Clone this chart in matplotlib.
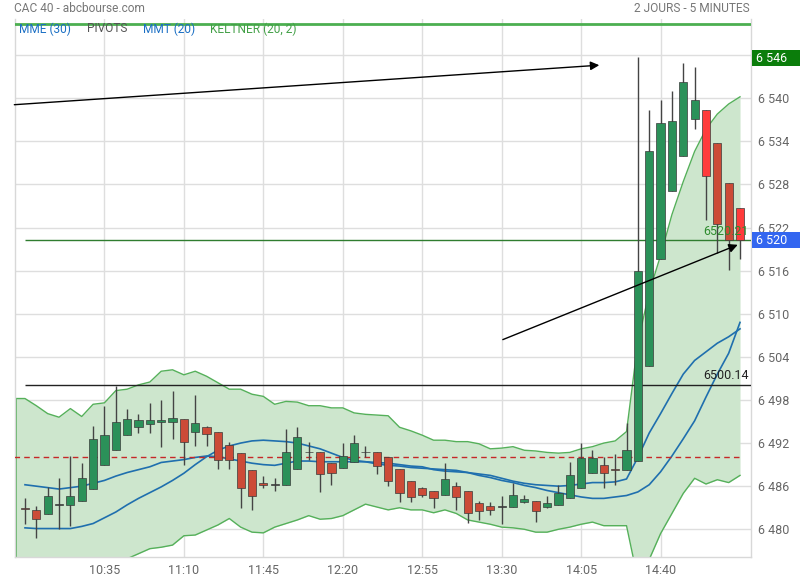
import matplotlib
matplotlib.use("Agg")
import matplotlib.pyplot as plt
import numpy as np

plt.rcParams['font.family'] = ['Roboto', 'DejaVu Sans']

# ---------------- data ----------------
opens = [6482.9, 6482.7, 6482.1, 6483.4, 6483.4, 6484.0, 6485.6, 6489.0, 6491.1, 6493.1,
         6494.2, 6494.7, 6494.9, 6495.0, 6495.3, 6493.6, 6494.2, 6493.6, 6491.7, 6490.6,
         6488.2, 6486.4, 6486.2, 6486.2, 6488.4, 6490.7, 6490.7, 6489.2, 6488.6, 6489.3,
         6490.7, 6490.7, 6490.0, 6488.4, 6486.7, 6485.7, 6485.3, 6484.8, 6486.0, 6485.3,
         6483.7, 6483.2, 6483.1, 6483.1, 6483.8, 6484.0, 6483.1, 6483.4, 6484.3, 6485.8,
         6487.9, 6488.9, 6488.4, 6488.3, 6489.5, 6502.7, 6517.6, 6527.1, 6531.9, 6537.1,
         6538.4, 6533.8, 6528.2, 6524.7]
highs = [6484.3, 6483.3, 6485.9, 6487.2, 6490.2, 6489.2, 6494.4, 6497.2, 6500.0, 6496.7,
         6496.0, 6497.6, 6498.0, 6499.3, 6495.3, 6498.7, 6494.4, 6493.6, 6492.2, 6490.6,
         6488.2, 6487.4, 6487.2, 6494.0, 6494.2, 6492.2, 6490.7, 6489.2, 6492.0, 6493.1,
         6491.6, 6490.7, 6490.0, 6488.4, 6486.7, 6485.9, 6485.3, 6489.2, 6486.6, 6485.3,
         6483.9, 6483.8, 6484.6, 6486.4, 6484.8, 6484.0, 6484.6, 6486.2, 6489.3, 6492.0,
         6491.0, 6490.0, 6490.5, 6494.8, 6545.7, 6538.4, 6539.8, 6541.0, 6544.9, 6544.3,
         6538.4, 6533.8, 6528.2, 6524.7]
lows = [6480.8, 6478.8, 6482.1, 6480.0, 6480.5, 6484.0, 6485.6, 6489.0, 6491.1, 6493.1,
        6493.4, 6493.4, 6491.4, 6492.5, 6489.0, 6491.6, 6491.6, 6488.4, 6488.4, 6482.9,
        6482.7, 6485.7, 6485.3, 6486.2, 6488.4, 6489.6, 6485.2, 6486.1, 6488.6, 6489.3,
        6490.1, 6487.7, 6486.0, 6483.8, 6483.8, 6484.5, 6483.0, 6484.8, 6482.7, 6480.9,
        6481.3, 6482.0, 6480.7, 6483.1, 6483.7, 6481.0, 6482.9, 6483.4, 6484.3, 6485.8,
        6487.9, 6485.8, 6486.1, 6488.3, 6489.5, 6502.7, 6517.6, 6527.1, 6531.9, 6535.7,
        6523.1, 6518.4, 6516.1, 6517.6]
closes = [6482.8, 6481.4, 6484.6, 6483.4, 6484.7, 6487.2, 6492.5, 6493.1, 6495.0, 6495.4,
          6495.2, 6495.2, 6495.2, 6495.5, 6492.1, 6494.8, 6493.2, 6489.6, 6489.6, 6485.7,
          6484.6, 6486.1, 6486.2, 6490.7, 6492.8, 6490.7, 6487.7, 6487.9, 6490.2, 6492.0,
          6490.8, 6488.8, 6486.7, 6485.0, 6484.5, 6484.8, 6484.4, 6487.0, 6484.5, 6482.2,
          6482.5, 6482.7, 6483.1, 6484.8, 6484.2, 6482.5, 6483.6, 6485.1, 6487.5, 6489.9,
          6489.9, 6487.9, 6488.2, 6491.0, 6515.9, 6532.7, 6536.5, 6536.9, 6542.3, 6539.8,
          6529.2, 6522.5, 6520.2, 6520.21]
bright_red_idx = [60, 63]

# Keltner (20, 2) bands, starting one bar before the first visible candle
keltner_upper = [6498.2, 6498.2, 6497.2, 6496.1, 6495.6, 6496.8, 6495.7, 6497.4, 6497.6, 6499.3,
                 6499.5, 6500.1, 6500.5, 6502.0, 6502.2, 6501.5, 6502.0, 6501.3, 6500.4, 6499.5,
                 6499.5, 6498.8, 6498.5, 6497.4, 6497.8, 6497.7, 6497.2, 6497.2, 6496.9, 6496.9,
                 6496.2, 6496.0, 6495.9, 6495.8, 6494.2, 6493.7, 6493.1, 6492.4, 6492.4, 6492.2,
                 6492.2, 6491.9, 6491.2, 6491.3, 6491.5, 6491.0, 6490.9, 6490.7, 6490.6, 6490.7,
                 6491.2, 6491.5, 6492.0, 6492.3, 6493.6, 6506.0, 6513.0, 6518.1, 6523.8, 6528.4,
                 6532.6, 6535.7, 6537.8, 6539.2, 6540.2]
keltner_lower = [6474.0, 6474.3, 6474.0, 6474.5, 6474.8, 6474.6, 6475.0, 6475.2, 6475.4, 6475.6,
                 6475.9, 6476.6, 6477.3, 6477.5, 6477.8, 6479.1, 6479.2, 6479.9, 6480.6, 6481.5,
                 6480.3, 6479.6, 6479.5, 6480.3, 6480.8, 6481.3, 6481.9, 6481.4, 6481.5, 6481.9,
                 6482.7, 6483.5, 6483.1, 6482.7, 6483.0, 6482.7, 6482.7, 6482.3, 6482.7, 6482.2,
                 6481.3, 6481.0, 6480.7, 6480.3, 6480.2, 6480.0, 6479.6, 6479.6, 6480.0, 6480.3,
                 6480.7, 6481.0, 6480.5, 6480.5, 6480.5, 6473.0, 6475.8, 6479.4, 6482.2, 6485.0,
                 6487.1, 6486.3, 6486.9, 6486.5, 6487.5]

mme30 = [6486.2, 6486.0, 6485.8, 6485.6, 6485.8, 6486.0, 6486.4, 6486.8, 6487.4, 6487.9,
         6488.3, 6488.7, 6489.3, 6489.5, 6489.7, 6490.0, 6490.2, 6490.1, 6489.8, 6489.5,
         6489.2, 6489.0, 6488.9, 6489.2, 6489.5, 6489.5, 6489.4, 6489.4, 6489.4, 6489.4,
         6489.4, 6489.3, 6489.2, 6489.0, 6488.8, 6488.7, 6488.3, 6488.1, 6488.0, 6487.9,
         6487.7, 6487.5, 6487.1, 6486.7, 6486.4, 6486.2, 6486.1, 6486.0, 6486.1, 6486.3,
         6486.5, 6486.5, 6486.6, 6487.0, 6490.0, 6493.4, 6496.1, 6498.9, 6501.6, 6503.5,
         6504.7, 6505.9, 6506.8, 6507.9]
mmt20 = [6480.2, 6480.1, 6480.1, 6480.1, 6480.1, 6480.4, 6480.8, 6481.6, 6482.4, 6483.4,
         6484.3, 6485.1, 6485.9, 6486.8, 6487.8, 6489.0, 6490.1, 6491.0, 6491.6, 6492.0,
         6492.3, 6492.4, 6492.3, 6492.2, 6492.0, 6491.6, 6491.2, 6490.6, 6490.0, 6489.6,
         6489.4, 6489.1, 6488.9, 6488.8, 6488.6, 6488.5, 6488.4, 6488.3, 6488.2, 6487.9,
         6487.5, 6487.2, 6486.8, 6486.5, 6486.1, 6485.8, 6485.4, 6485.1, 6484.8, 6484.5,
         6484.3, 6484.3, 6484.5, 6484.7, 6485.2, 6486.2, 6488.0, 6490.2, 6492.6, 6495.1,
         6498.4, 6501.6, 6504.5, 6508.8]

pivot_top = 6550.4
pivot_dashed = 6490.0
level_1 = 6500.14
level_2 = 6520.21
badge_high = 6545.6
badge_high_text = "6 546"
badge_last_text = "6 520"

time_ticks_idx = [7, 14, 21, 28, 35, 42, 49, 56]
time_labels = ["10:35", "11:10", "11:45", "12:20", "12:55", "13:30", "14:05", "14:40"]
price_ticks = [6480, 6486, 6492, 6498, 6504, 6510, 6516, 6522, 6528, 6534, 6540, 6546]

arrow1 = ((-0.94, 6539.1), (50.6, 6544.6))
arrow2 = ((42.1, 6506.4), (62.8, 6519.6))

# ---------------- figure ----------------
W, H = 800, 580
fig = plt.figure(figsize=(8, 5.8), dpi=100)
ax_left, ax_right, ax_top, ax_bot = 15, 750.8, 18.5, 557.3
ax = fig.add_axes([ax_left / W, 1 - ax_bot / H, (ax_right - ax_left) / W, (ax_bot - ax_top) / H])

n = len(opens)
idx = np.arange(n)
band_idx = np.arange(-1, n)
XL = (-0.88, 63.95)
ax.set_xlim(*XL)
ax.set_ylim(6476.1, 6551.1)

# grid
grid_c = '#dedede'
for v in price_ticks:
    ax.axhline(v, color=grid_c, lw=1, zorder=0)
for t in time_ticks_idx:
    ax.axvline(t, color=grid_c, lw=1, zorder=0)

# Keltner band
ax.fill_between(band_idx, keltner_lower, keltner_upper, color='#cde6cd', lw=0, zorder=1)
ax.plot(band_idx, keltner_upper, color='#55b05a', lw=1, zorder=2)
ax.plot(band_idx, keltner_lower, color='#55b05a', lw=1, zorder=2)
ax.plot([XL[0], XL[0]], [keltner_lower[0], keltner_upper[0]], color='#55b05a', lw=2, zorder=2)

# moving averages
ax.plot(idx, mme30, color='#1f6fae', lw=1.2, zorder=3)
ax.plot(idx, mmt20, color='#1f6fae', lw=1.2, zorder=3)

# pivot lines
ax.hlines(pivot_dashed, -1, n - 1, colors='#c62828', linestyles=(0, (4, 3)), lw=1, zorder=3)
ax.axhline(pivot_top, color='#4caf50', lw=2, zorder=3)
ax.text(59.8, pivot_top + 0.35, f"{pivot_top:.2f}", color='#2e8b2e', fontsize=8.6,
        ha='left', va='bottom', zorder=3, clip_on=True)

# horizontal levels
ax.hlines(level_1, 0, XL[1], colors='#222222', lw=1, zorder=3)
ax.hlines(level_2, 0, XL[1], colors='#2f7d2f', lw=1, zorder=3)
ax.text(59.8, level_1 + 0.3, f"{level_1:.2f}", color='#222222', fontsize=9, ha='left',
        va='bottom', zorder=7)
ax.text(59.8, level_2 + 0.3, f"{level_2:.2f}", color='#2e8b2e', fontsize=9, ha='left',
        va='bottom', zorder=7)

# candles
green, red, bright = '#2b9159', '#cc4b37', '#ff3b3b'
o = np.array(opens); c = np.array(closes); h = np.array(highs); l = np.array(lows)
ax.vlines(idx, l, h, colors='#444444', lw=1, zorder=4)
for i in range(n):
    if c[i] > o[i]:
        col = green
    elif c[i] < o[i]:
        col = bright if i in bright_red_idx else red
    else:
        col = '#444444'
    hgt = c[i] - o[i]
    if abs(hgt) < 0.12:
        hgt = 0.12 if hgt >= 0 else -0.12
    ax.bar(i, hgt, bottom=o[i], width=0.72, color=col, edgecolor='#3a3a3a', lw=0.5, zorder=5)

# arrows
for (s, e) in (arrow1, arrow2):
    ax.annotate("", xy=e, xytext=s,
                arrowprops=dict(arrowstyle='-|>', color='black', lw=1, mutation_scale=13,
                                shrinkA=0, shrinkB=0), zorder=8)

# axes styling
ax.spines['top'].set_visible(False)
for sp in ['left', 'right', 'bottom']:
    ax.spines[sp].set_color('#d8d8d8')
    ax.spines[sp].set_linewidth(1)
ax.yaxis.tick_right()
ax.set_yticks(price_ticks)
ax.set_yticklabels([f"{v // 1000} {v % 1000:03d}" for v in price_ticks])
ax.set_xticks(time_ticks_idx)
ax.set_xticklabels(time_labels)
ax.tick_params(axis='both', length=0, labelsize=9, labelcolor='#666666')
ax.tick_params(axis='y', pad=5)
ax.tick_params(axis='x', pad=5)

# badges
def to_fig_y(v):
    y0, y1 = ax.get_ylim()
    frac = (v - y0) / (y1 - y0)
    return (1 - ax_bot / H) + frac * (ax_bot - ax_top) / H

fig.patches.append(plt.Rectangle((752 / W, to_fig_y(badge_high) - 8 / H), 48 / W, 16 / H,
                                 transform=fig.transFigure, fc='#0b7d0b', ec='none', zorder=9))
fig.text(756 / W, to_fig_y(badge_high), badge_high_text, color='white', fontsize=9,
         va='center', ha='left', zorder=10)
fig.patches.append(plt.Rectangle((752 / W, to_fig_y(level_2) - 8 / H), 48 / W, 16 / H,
                                 transform=fig.transFigure, fc='#3366f0', ec='none', zorder=9))
fig.text(756 / W, to_fig_y(level_2), badge_last_text, color='white', fontsize=9,
         va='center', ha='left', zorder=10)

# header
fig.text(14 / W, 1 - 8 / H, "CAC 40 - abcbourse.com", color='#777777', fontsize=8.6,
         ha='left', va='center')
fig.text(750 / W, 1 - 8 / H, "2 JOURS - 5 MINUTES", color='#777777', fontsize=8.6,
         ha='right', va='center')
legend_items = [(19, "MME (30)", '#1a6fc4'), (87, "PIVOTS", '#555555'),
                (143, "MMT (20)", '#1a6fc4'), (210, "KELTNER (20, 2)", '#43a047')]
for x, t, col in legend_items:
    fig.text(x / W, 1 - 29 / H, t, color=col, fontsize=8.6, ha='left', va='center', zorder=10)

fig.savefig("out.png", dpi=100)
